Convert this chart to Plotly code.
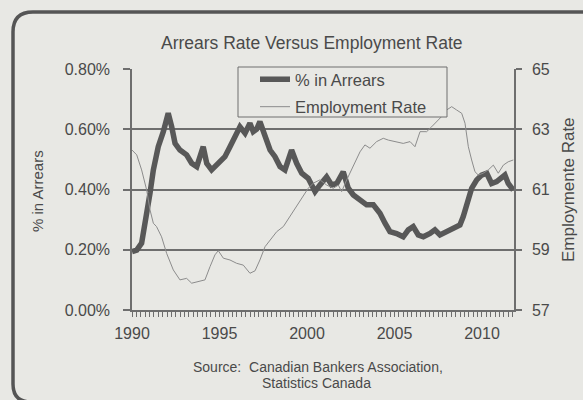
import plotly.graph_objects as go

# Mortgage arrears (% of mortgages in arrears), by year
arrears_year = [1990.0, 1990.27, 1990.55, 1990.84, 1991.03, 1991.22, 1991.5, 1991.79, 1992.07,
                1992.27, 1992.46, 1992.74, 1993.12, 1993.41, 1993.7, 1994.07, 1994.27, 1994.55,
                1994.93, 1995.31, 1995.6, 1995.89, 1996.17, 1996.46, 1996.74, 1996.93, 1997.12,
                1997.31, 1997.6, 1997.89, 1998.17, 1998.46, 1998.74, 1999.12, 1999.41, 1999.7,
                2000.07, 2000.46, 2000.74, 2001.12, 2001.41, 2001.7, 2002.07, 2002.36, 2002.65,
                2003.03, 2003.41, 2003.79, 2004.17, 2004.46, 2004.74, 2005.12, 2005.5, 2005.79,
                2006.07, 2006.36, 2006.65, 2007.03, 2007.31, 2007.6, 2007.98, 2008.36, 2008.74,
                2008.93, 2009.12, 2009.41, 2009.7, 2009.98, 2010.27, 2010.55, 2010.84, 2011.12,
                2011.31, 2011.5, 2011.79]
arrears_pct = [0.194, 0.199, 0.222, 0.31, 0.388, 0.465, 0.542, 0.592, 0.653,
               0.608, 0.553, 0.531, 0.515, 0.487, 0.476, 0.542, 0.487, 0.465,
               0.487, 0.509, 0.542, 0.575, 0.608, 0.587, 0.62, 0.592, 0.6,
               0.625, 0.575, 0.531, 0.509, 0.476, 0.465, 0.531, 0.487, 0.454,
               0.437, 0.393, 0.415, 0.442, 0.415, 0.42, 0.459, 0.404, 0.382,
               0.365, 0.349, 0.349, 0.321, 0.288, 0.26, 0.254, 0.243, 0.266,
               0.277, 0.249, 0.243, 0.254, 0.266, 0.249, 0.26, 0.271, 0.282,
               0.31, 0.354, 0.404, 0.432, 0.448, 0.454, 0.42, 0.426, 0.437,
               0.448, 0.42, 0.398]

# Employment rate (%), by year
employment_year = [1990.0, 1990.27, 1990.55, 1990.84, 1991.03, 1991.22, 1991.4, 1991.69, 1991.98,
                   1992.36, 1992.74, 1993.12, 1993.41, 1993.79, 1994.17, 1994.46, 1994.74, 1994.93,
                   1995.22, 1995.6, 1995.98, 1996.36, 1996.74, 1997.03, 1997.31, 1997.6, 1997.89,
                   1998.27, 1998.65, 1999.03, 1999.41, 1999.79, 2000.07, 2000.36, 2000.74, 2001.12,
                   2001.5, 2001.79, 2001.98, 2002.27, 2002.65, 2003.03, 2003.31, 2003.6, 2003.98,
                   2004.36, 2004.65, 2005.03, 2005.5, 2005.89, 2006.17, 2006.46, 2006.84, 2007.12,
                   2007.41, 2007.69, 2007.98, 2008.27, 2008.55, 2008.84, 2009.03, 2009.22, 2009.41,
                   2009.6, 2009.79, 2010.07, 2010.36, 2010.65, 2010.93, 2011.22, 2011.5, 2011.79]
employment_rate = [62.31, 62.15, 61.65, 60.98, 60.32, 59.88, 59.77, 59.43, 58.88,
                   58.33, 58.0, 58.05, 57.89, 57.94, 58.0, 58.44, 58.83, 58.97,
                   58.72, 58.66, 58.55, 58.49, 58.22, 58.3, 58.66, 59.1, 59.32,
                   59.6, 59.77, 60.1, 60.43, 60.76, 61.04, 61.21, 61.32, 61.15,
                   61.04, 61.15, 60.93, 61.32, 61.76, 62.25, 62.48, 62.37, 62.59,
                   62.7, 62.64, 62.59, 62.53, 62.59, 62.42, 62.92, 62.92, 63.08,
                   63.25, 63.42, 63.64, 63.75, 63.64, 63.53, 63.2, 62.42, 61.98,
                   61.59, 61.48, 61.54, 61.65, 61.81, 61.54, 61.81, 61.92, 61.98]

year_ticks = [1990, 1995, 2000, 2005, 2010]
arrears_ticks = [0.0, 0.2, 0.4, 0.6, 0.8]
arrears_tick_labels = ["0.00%", "0.20%", "0.40%", "0.60%", "0.80%"]
employment_ticks = [57, 59, 61, 63, 65]

W, H = 583, 400
L, R, T, B = 132, 514, 69, 310  # plot area in pixels
BG = "#e8e8e4"
INK = "#4a4a4a"
GRID = "#6e6e6e"
FONT = "Liberation Sans, Arial, sans-serif"


def px(x):
    return (x - L) / (R - L)


def py(y):
    return (B - y) / (B - T)


def label(text, x, y, size, angle=0):
    return dict(text=text, x=px(x), y=py(y), xref="paper", yref="paper",
                xanchor="center", yanchor="middle", showarrow=False, textangle=angle,
                font=dict(size=size, color=INK, family=FONT))


fig = go.Figure()
fig.add_trace(go.Scatter(
    x=arrears_year, y=arrears_pct, name="% in Arrears", mode="lines",
    line=dict(color="#585858", width=5.5), legendgroup="a"))
fig.add_trace(go.Scatter(
    x=employment_year, y=employment_rate, name="Employment Rate", mode="lines",
    line=dict(color="#8c8c8c", width=1), yaxis="y2", legendgroup="b"))

shapes = [
    # legend box
    dict(type="rect", xref="paper", yref="paper", layer="above",
         x0=px(238), x1=px(447), y0=py(117), y1=py(67),
         fillcolor=BG, line=dict(color=GRID, width=1)),
    # rounded outer frame
    dict(type="path", xref="paper", yref="paper", layer="above",
         path=(f"M {px(620)} {py(12)} L {px(33)} {py(12)} "
               f"Q {px(13)} {py(12)} {px(13)} {py(32)} "
               f"L {px(13)} {py(384)} Q {px(13)} {py(402)} {px(31)} {py(402)} "
               f"L {px(620)} {py(402)}"),
         line=dict(color="#555555", width=3.5)),
]

annotations = [
    label("Arrears Rate Versus Employment Rate", 312, 43, 17.5),
    label("% in Arrears", 37, 191, 15),
    label("Employmente Rate", 568, 190, 17),
    label("Source:  Canadian Bankers Association,", 318, 367, 14),
    label("Statistics Canada", 316, 383, 14),
]
annotations[1]["textangle"] = -90
annotations[2]["textangle"] = -90

fig.update_layout(
    width=W, height=H,
    margin=dict(l=L, r=W - R, t=T, b=H - B, pad=0),
    paper_bgcolor=BG, plot_bgcolor=BG,
    font=dict(family=FONT, size=16, color=INK),
    showlegend=True,
    legend=dict(x=px(255), y=py(62), xanchor="left", yanchor="top",
                bgcolor="rgba(0,0,0,0)", borderwidth=0,
                traceorder="grouped", tracegroupgap=3,
                font=dict(size=16.5, color=INK, family=FONT)),
    xaxis=dict(range=[1990, 2011.83], tickvals=year_ticks, ticktext=[str(v) for v in year_ticks],
               showgrid=False, zeroline=False, showline=True, linecolor=GRID, linewidth=1.5,
               ticks="outside", ticklen=5, tickcolor=GRID, tickwidth=1,
               minor=dict(dtick=0.25, tick0=1990, ticks="outside", ticklen=5,
                          tickcolor=GRID, tickwidth=1, showgrid=False),
               tickfont=dict(size=16, color=INK), ticklabelstandoff=3),
    yaxis=dict(range=[0, 0.8], tickvals=arrears_ticks, ticktext=arrears_tick_labels,
               showgrid=True, gridcolor=GRID, gridwidth=1.5, zeroline=False,
               showline=True, linecolor=GRID, linewidth=1.5,
               ticks="outside", ticklen=7, tickcolor=GRID, tickwidth=1.5,
               tickfont=dict(size=16, color=INK), ticklabelstandoff=10),
    yaxis2=dict(range=[57, 65], tickvals=employment_ticks, overlaying="y", side="right",
                showgrid=False, zeroline=False, showline=True, linecolor=GRID, linewidth=1.5,
                ticks="outside", ticklen=6, tickcolor=GRID, tickwidth=1.5,
                tickfont=dict(size=16, color=INK), ticklabelstandoff=7),
    shapes=shapes, annotations=annotations,
)

fig.write_html("out.html")
